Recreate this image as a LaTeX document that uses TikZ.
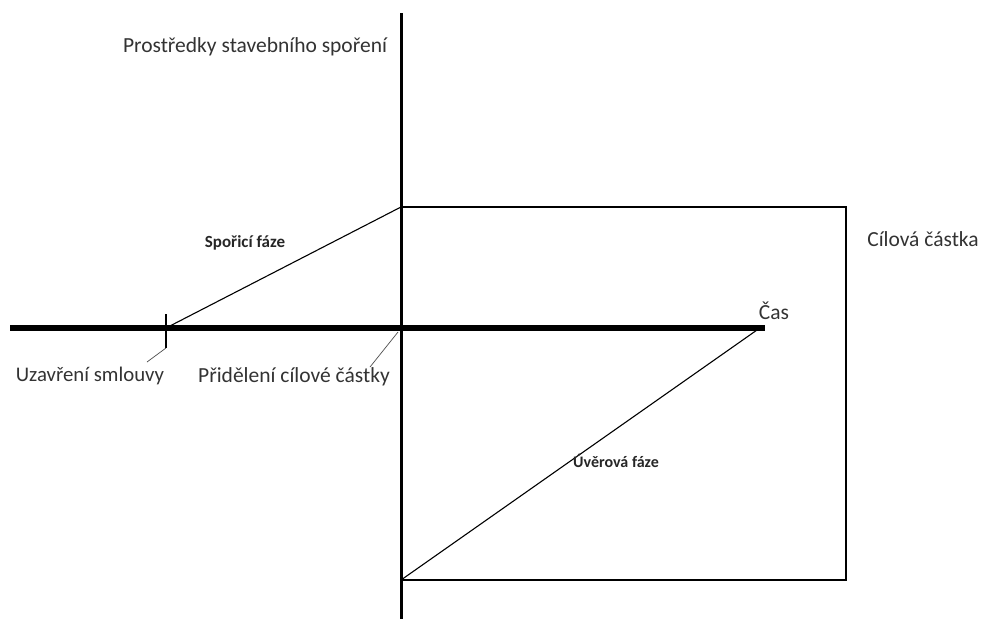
\documentclass[tikz,border=0pt]{standalone}
\usepackage{fontspec}
\setmainfont{Carlito}
\begin{document}
\begin{tikzpicture}[x=1pt,y=-1pt,
  lbl/.style={font=\fontsize{21.5}{24}\selectfont, text=black!80, inner sep=0pt},
  phase/.style={font=\fontsize{17}{19}\selectfont\bfseries, text=black!85, inner sep=0pt},
  axisx/.style={line width=5.5pt},
  axisy/.style={line width=3pt},
  thin/.style={line width=1.1pt},
  frame/.style={line width=2.4pt},
  leader/.style={line width=0.7pt, black!70}]
\useasboundingbox (0,0) rectangle (986,619);
% coordinates
\coordinate (ytop) at (401,13);
\coordinate (ybot) at (401,619);
\coordinate (xl) at (10,328);
\coordinate (xr) at (765,328);
\coordinate (o) at (401,328);
\coordinate (tick) at (166,328);
\coordinate (ticktop) at (166,314);
\coordinate (tickbot) at (166,348);
\coordinate (goal) at (401,207);
\coordinate (rtop) at (846,207);
\coordinate (rbot) at (846,580);
\coordinate (lbot) at (401,580);
\coordinate (loanend) at (757,330);
% axes
\draw[axisy] (ytop) -- (ybot);
\draw[axisx] (xl) -- (xr);
\draw[thin] (ticktop) -- (tickbot);
% frame
\draw[frame] (goal) -- (rtop) -- (rbot) -- (lbot);
% phases
\draw[thin] (tick) -- (goal);
\draw[thin] (lbot) -- (loanend);
% labels
\node[lbl] (ylab) at (255,47) {Prostředky stavebního spoření};
\node[lbl] (cil) at (923,239) {Cílová částka};
\node[lbl] (cas) at (774,311) {Čas};
\node[lbl, font=\fontsize{20.8}{23}\selectfont] (uzav) at (90,376) {Uzavření smlouvy};
\node[lbl] (prid) at (294,377) {Přidělení cílové částky};
\node[phase] (spor) at (245,243) {Spořicí fáze};
\node[phase, font=\fontsize{16}{18}\selectfont\bfseries] (uver) at (616,461) {Úvěrová fáze};
% leaders
\coordinate (l1) at (147,362);
\coordinate (l2) at (370,367);
\draw[leader] (tickbot) -- (l1);
\draw[leader] (398,332) -- (l2);
\end{tikzpicture}
\end{document}
